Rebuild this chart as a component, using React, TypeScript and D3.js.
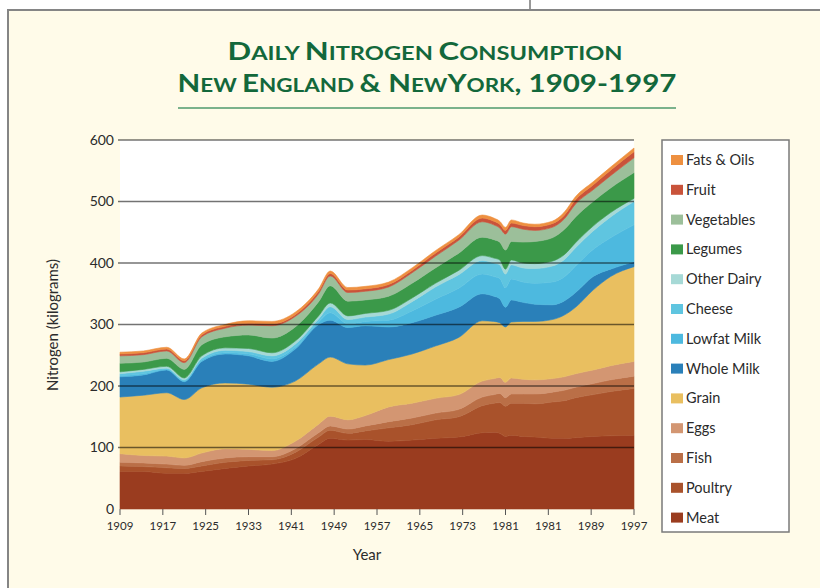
import React from "react";
import * as d3 from "d3";

const years = [1909, 1913, 1917, 1920, 1923, 1927, 1931, 1935, 1939, 1943, 1945, 1948, 1951, 1955, 1959, 1963, 1967, 1971, 1973, 1974, 1975, 1976, 1978, 1980, 1983, 1985, 1987, 1990, 1993, 1997];

const meat = [61, 61, 58, 58, 61, 66, 70, 73, 82, 105, 115, 112, 113, 110, 112, 115, 117, 124, 125, 123, 118, 120, 118, 117, 115, 115, 116, 118, 119, 120];
const poultry = [9, 8, 9, 8, 9, 10, 9, 7, 10, 12, 13, 11, 14, 22, 25, 30, 33, 44, 47, 50, 49, 52, 54, 54, 59, 61, 65, 68, 72, 76];
const fish = [6, 6, 6, 5, 7, 7, 6, 5, 6, 7, 7, 7, 8, 10, 11, 11, 12, 14, 14, 15, 14, 15, 15, 16, 16, 17, 17, 18, 19, 20];
const eggs = [14, 12, 13, 12, 14, 15, 12, 10, 12, 14, 16, 15, 17, 24, 24, 24, 24, 26, 26, 26, 25, 26, 24, 23, 22, 22, 22, 22, 23, 24];
const grain = [92, 98, 103, 95, 106, 107, 106, 103, 98, 98, 96, 91, 82, 77, 80, 85, 93, 98, 93, 89, 90, 91, 94, 95, 96, 100, 108, 130, 145, 154];
const wholeMilk = [33, 33, 37, 29, 43, 47, 46, 42, 52, 64, 60, 59, 64, 53, 51, 50, 49, 44, 41, 39, 32, 36, 31, 28, 24, 23, 24, 22, 12, 8];
const lowfatMilk = [2, 2, 1, 1, 2, 2, 3, 4, 3, 4, 12, 6, 7, 11, 19, 26, 31, 32, 32, 33, 32, 34, 33, 34, 37, 39, 43, 44, 51, 60];
const cheese = [3, 4, 2, 2, 3, 4, 4, 5, 5, 5, 10, 7, 7, 10, 15, 20, 22, 22, 22, 22, 22, 23, 23, 24, 26, 28, 30, 30, 34, 38];
const otherDairy = [3, 3, 3, 3, 4, 4, 5, 5, 5, 5, 6, 6, 6, 6, 6, 6, 7, 8, 8, 8, 8, 8, 8, 8, 8, 8, 8, 8, 7, 5];
const legumes = [14, 12, 13, 14, 18, 18, 22, 24, 23, 23, 28, 24, 22, 23, 24, 25, 28, 30, 30, 29, 31, 30, 34, 36, 38, 41, 42, 40, 40, 42];
const vegetables = [12, 12, 12, 11, 13, 14, 16, 20, 17, 13, 16, 14, 14, 15, 17, 19, 21, 25, 24, 23, 26, 24, 21, 18, 17, 17, 21, 19, 20, 24];
const fruit = [3, 3, 3, 3, 3, 3, 3, 3, 3, 4, 4, 4, 4, 4, 4, 5, 5, 6, 6, 6, 6, 6, 6, 6, 6, 6, 7, 8, 9, 10];
const fatsOils = [3, 3, 3, 3, 3, 3, 4, 4, 4, 4, 4, 4, 4, 4, 4, 4, 4, 5, 5, 5, 5, 5, 4, 4, 4, 5, 5, 5, 5, 6];

// bottom to top
const seriesNames = ["Meat", "Poultry", "Fish", "Eggs", "Grain", "Whole Milk", "Lowfat Milk", "Cheese", "Other Dairy", "Legumes", "Vegetables", "Fruit", "Fats & Oils"];
const seriesValues = [meat, poultry, fish, eggs, grain, wholeMilk, lowfatMilk, cheese, otherDairy, legumes, vegetables, fruit, fatsOils];
const seriesColors = ["#9a3c1f", "#a9522b", "#ba6f47", "#d39672", "#e9bf60", "#2a80b9", "#4db9df", "#5fc5e0", "#a6d9d6", "#3b9949", "#9cbf9a", "#c9533a", "#ee9040"];

const xTickLabels = ["1909", "1917", "1925", "1933", "1941", "1949", "1957", "1965", "1973", "1981", "1981", "1989", "1997"];
const yTicks = [0, 100, 200, 300, 400, 500, 600];

const FONT = "Lato, 'Open Sans', sans-serif";
const GREEN = "#13683b";

export default function App() {
  const left = 120, right = 634, top = 140, bottom = 509;
  const x = d3.scaleLinear().domain([1909, 1997]).range([left, right]);
  const y = d3.scaleLinear().domain([0, 600]).range([bottom, top]);

  const rows = years.map((yr, i) => {
    const r: any = { year: yr };
    seriesNames.forEach((n, k) => (r[n] = seriesValues[k][i]));
    return r;
  });
  const stacked = d3.stack<any>().keys(seriesNames)(rows);
  const area = d3
    .area<any>()
    .x((d) => x(d.data.year))
    .y0((d) => y(d[0]))
    .y1((d) => y(d[1]))
    .curve(d3.curveMonotoneX);

  const tickPos = xTickLabels.map((_, i) => 1909 + (i * 88) / (xTickLabels.length - 1));
  const legendItems = seriesNames.map((n, k) => ({ n, c: seriesColors[k] })).reverse();

  const small = 19;
  const big = 25;

  return (
    <svg width={820} height={588} style={{ position: "absolute", left: 0, top: 0, display: "block" }}>
      <rect x={0} y={0} width={820} height={588} fill="#ffffff" />
      <line x1={530} y1={0} x2={530} y2={10} stroke="#333" strokeWidth={1} />
      <rect x={8} y={10} width={830} height={600} fill="#fffbe9" stroke="#858585" strokeWidth={2} />

      {/* Title */}
      <text x={425} y={60} textAnchor="middle" fill={GREEN} fontFamily={FONT} fontWeight={700} textLength={395} lengthAdjust="spacingAndGlyphs">
        <tspan fontSize={big}>D</tspan>
        <tspan fontSize={small}>AILY </tspan>
        <tspan fontSize={big}>N</tspan>
        <tspan fontSize={small}>ITROGEN </tspan>
        <tspan fontSize={big}>C</tspan>
        <tspan fontSize={small}>ONSUMPTION</tspan>
      </text>
      <text x={427} y={92} textAnchor="middle" fill={GREEN} fontFamily={FONT} fontWeight={700} textLength={499} lengthAdjust="spacingAndGlyphs">
        <tspan fontSize={big}>N</tspan>
        <tspan fontSize={small}>EW </tspan>
        <tspan fontSize={big}>E</tspan>
        <tspan fontSize={small}>NGLAND </tspan>
        <tspan fontSize={big}>&amp; N</tspan>
        <tspan fontSize={small}>EW</tspan>
        <tspan fontSize={big}>Y</tspan>
        <tspan fontSize={small}>ORK</tspan>
        <tspan fontSize={big}>, 1909-1997</tspan>
      </text>
      <line x1={178} y1={108} x2={676} y2={108} stroke="#4f9a6c" strokeWidth={1.5} />

      {/* plot background */}
      <rect x={left} y={top} width={right - left} height={bottom - top} fill="#ffffff" />

      {stacked.map((s, k) => (
        <path key={s.key} d={area(s) || ""} fill={seriesColors[k]} stroke={seriesColors[k]} strokeWidth={0.6} />
      ))}

      {/* gridlines */}
      {yTicks.filter((t) => t > 0).map((t) => (
        <line key={t} x1={left - 2} x2={right} y1={y(t)} y2={y(t)} stroke="#000" strokeOpacity={0.55} strokeWidth={1.3} />
      ))}

      {/* y labels */}
      {yTicks.map((t) => (
        <text key={t} x={114} y={y(t)} dy="0.35em" textAnchor="end" fontFamily={FONT} fontSize={14} fill="#2b2b2b">
          {t}
        </text>
      ))}

      {/* x ticks */}
      {tickPos.map((p, i) => (
        <g key={i}>
          <line x1={x(p)} x2={x(p)} y1={bottom} y2={bottom + 6} stroke="#555" strokeWidth={1} />
          <text x={x(p)} y={530} textAnchor="middle" fontFamily={FONT} fontSize={11.5} fill="#2b2b2b">
            {xTickLabels[i]}
          </text>
        </g>
      ))}

      <text x={367} y={560} textAnchor="middle" fontFamily={FONT} fontSize={15} fill="#2b2b2b">
        Year
      </text>
      <text transform="translate(58,325) rotate(-90)" textAnchor="middle" fontFamily={FONT} fontSize={15} fill="#2b2b2b">
        Nitrogen (kilograms)
      </text>

      {/* legend */}
      <rect x={662} y={140} width={127} height={392} fill="#ffffff" stroke="#7a7a7a" strokeWidth={1.5} />
      {legendItems.map((it, i) => {
        const cy = 160 + i * 29.8;
        return (
          <g key={it.n}>
            <rect x={671} y={cy - 5} width={12} height={10} fill={it.c} />
            <text x={686} y={cy} dy="0.35em" fontFamily={FONT} fontSize={14.5} fill="#2a2a2a">
              {it.n}
            </text>
          </g>
        );
      })}
    </svg>
  );
}
